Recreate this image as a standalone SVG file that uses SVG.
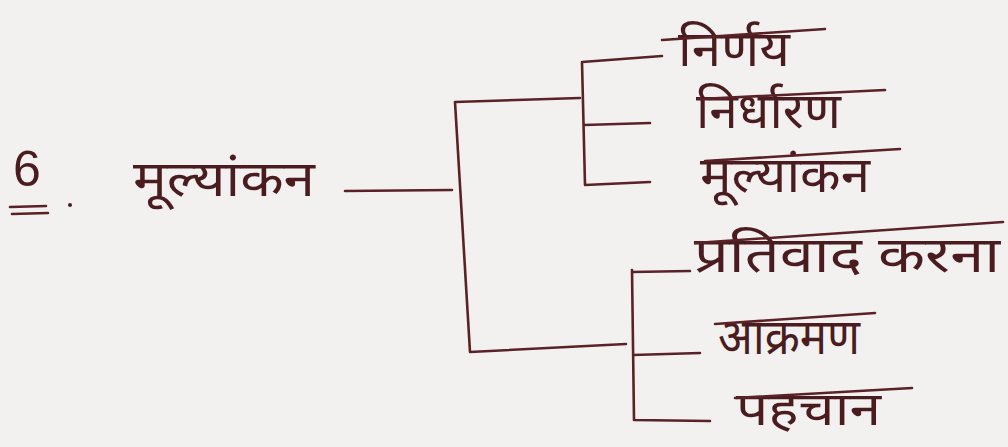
<svg xmlns="http://www.w3.org/2000/svg" width="1008" height="447" viewBox="0 0 1008 447">
<style>
.ink{fill:none;stroke:#5a2226;stroke-width:2.6;stroke-linecap:round;stroke-linejoin:round}
.t{font-family:"Noto Sans Devanagari","Noto Sans","Lohit Devanagari","Mangal",sans-serif;fill:#4a1c20;font-size:50px}
.n{font-family:"Liberation Sans",Arial,sans-serif;fill:#4a1c20;font-size:50px}
</style>
<rect width="1008" height="447" fill="#f3f1f0"/>
<g id="num">
<text x="13" y="186" class="n">6</text>
<path class="ink" d="M10 207 L46 206 M12 214 L48 213"/>
<circle cx="70" cy="205" r="2" fill="#4a1c20"/>
</g>
<g id="root"><text x="133" y="196" class="t" textLength="182" lengthAdjust="spacingAndGlyphs">मूल्यांकन</text></g>
<g id="n1"><text x="678" y="66" class="t" textLength="112" lengthAdjust="spacingAndGlyphs">निर्णय</text><path class="ink" d="M662 40 L825 29"/></g>
<g id="n2"><text x="696" y="128" class="t" textLength="145" lengthAdjust="spacingAndGlyphs">निर्धारण</text><path class="ink" d="M700 99 L885 90"/></g>
<g id="n3"><text x="700" y="192" class="t" textLength="170" lengthAdjust="spacingAndGlyphs">मूल्यांकन</text><path class="ink" d="M705 161 L900 149"/></g>
<g id="n4"><text x="694" y="272" class="t" textLength="306" lengthAdjust="spacingAndGlyphs">प्रतिवाद करना</text><path class="ink" d="M695 243 L1003 222"/></g>
<g id="n5"><text x="718" y="354" class="t" textLength="142" lengthAdjust="spacingAndGlyphs">आक्रमण</text><path class="ink" d="M715 324 L875 313"/></g>
<g id="n6"><text x="736" y="425" class="t" style="font-size:46px" textLength="145" lengthAdjust="spacingAndGlyphs">पहचान</text><path class="ink" d="M735 398 L912 388"/></g>
<g id="connectors">
<path class="ink" d="M345 191 L452 190"/>
<path class="ink" d="M580 98 L455 102 L470 352 L626 344"/>
<path class="ink" d="M582 62 L585 185 M582 62 L662 56 M584 125 L650 123 M585 185 L650 182"/>
<path class="ink" d="M632 270 L634 420 M632 272 L690 271 M633 355 L700 353 M634 420 L710 421"/>
</g>
</svg>
